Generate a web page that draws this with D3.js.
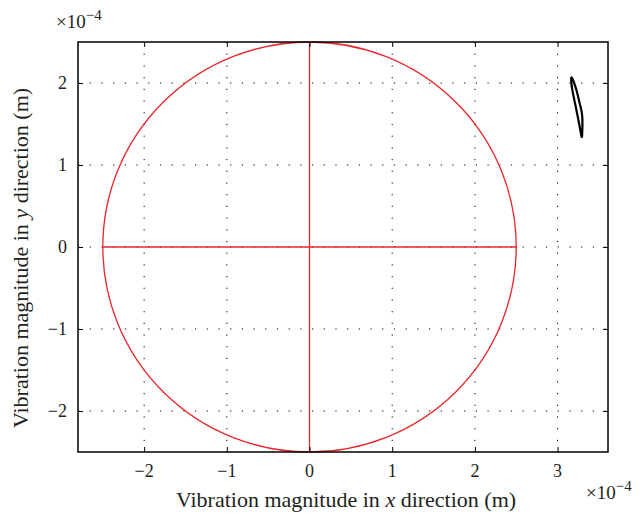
<!DOCTYPE html>
<html>
<head>
<meta charset="utf-8">
<script src="https://cdn.jsdelivr.net/npm/d3@7"></script>
<style>
body { margin: 0; background: #fff; }
svg text { font-family: "Liberation Serif", "Times New Roman", serif; fill: #231f20; }
</style>
</head>
<body>
<svg id="chart" width="640" height="516"></svg>
<script>
// values in units of 1e-4 m
var x_ticks = [-2, -1, 0, 1, 2, 3];
var y_ticks = [-2, -1, 0, 1, 2];
var circle_radius = 2.5;
var cross_x = [[-2.5, 0], [2.5, 0]];
var cross_y = [[0, -2.5], [0, 2.5]];
// orbit, (x, y) pairs
var orbit = [
    [3.165, 2.058], [3.177, 1.925], [3.217, 1.725], [3.265, 1.482],
    [3.289, 1.349], [3.298, 1.382], [3.298, 1.600], [3.265, 1.762],
    [3.225, 1.925], [3.185, 2.040]
];

var svg = d3.select('#chart');
var margin = {left: 78, right: 32, top: 42, bottom: 64};
var width = 640 - margin.left - margin.right,
    height = 516 - margin.top - margin.bottom;

var x = d3.scaleLinear().domain([-2.8, 3.61]).range([margin.left, margin.left + width]);
var y = d3.scaleLinear().domain([-2.5, 2.5]).range([margin.top + height, margin.top]);

var fmt = d => d < 0 ? '\u2212' + Math.abs(d) : String(d);

// dotted grid
svg.append('g').selectAll('line')
    .data(x_ticks).enter().append('line')
    .attr('x1', d => x(d)).attr('x2', d => x(d))
    .attr('y1', y(2.5)).attr('y2', y(-2.5))
    .attr('stroke', '#000').attr('stroke-width', 1)
    .attr('stroke-dasharray', '1.2,10.5');
svg.append('g').selectAll('line')
    .data(y_ticks).enter().append('line')
    .attr('y1', d => y(d)).attr('y2', d => y(d))
    .attr('x1', x.range()[0]).attr('x2', x.range()[1])
    .attr('stroke', '#000').attr('stroke-width', 1)
    .attr('stroke-dasharray', '1.2,10.5');

// red circle and cross
var red = '#e8262b';
svg.append('ellipse')
    .attr('cx', x(0)).attr('cy', y(0))
    .attr('rx', x(circle_radius) - x(0))
    .attr('ry', y(0) - y(circle_radius))
    .attr('fill', 'none').attr('stroke', red).attr('stroke-width', 1.3);

var line = d3.line().x(d => x(d[0])).y(d => y(d[1]));
[cross_x, cross_y].forEach(function(seg) {
    svg.append('path').attr('d', line(seg))
        .attr('fill', 'none').attr('stroke', red).attr('stroke-width', 1.3);
});

// orbit
svg.append('path')
    .attr('d', line.curve(d3.curveCardinalClosed)(orbit))
    .attr('fill', 'none').attr('stroke', '#000').attr('stroke-width', 2.2);

// tick marks, inside on all four sides (labels drawn separately)
function ticks(axis, scale, vals) {
    return axis(scale).tickValues(vals).tickSizeInner(-5).tickSizeOuter(0).tickFormat('');
}
svg.append('g').attr('transform', 'translate(0,' + y(-2.5) + ')')
    .call(ticks(d3.axisBottom, x, x_ticks));
svg.append('g').attr('transform', 'translate(0,' + y(2.5) + ')')
    .call(ticks(d3.axisTop, x, x_ticks));
svg.append('g').attr('transform', 'translate(' + x.range()[0] + ',0)')
    .call(ticks(d3.axisLeft, y, y_ticks));
svg.append('g').attr('transform', 'translate(' + x.range()[1] + ',0)')
    .call(ticks(d3.axisRight, y, y_ticks));
svg.selectAll('.domain').remove();
svg.selectAll('.tick line').attr('stroke', '#000');
svg.selectAll('.tick text').remove();

// tick labels
x_ticks.forEach(function(d) {
    svg.append('text')
        .attr('x', x(d)).attr('y', y(-2.5) + 25)
        .attr('text-anchor', 'middle')
        .attr('font-size', 18).style('font-size', '18px')
        .text(fmt(d));
});
y_ticks.forEach(function(d) {
    svg.append('text')
        .attr('x', x.range()[0] - 11).attr('y', y(d) + 6)
        .attr('text-anchor', 'end')
        .attr('font-size', 18).style('font-size', '18px')
        .text(fmt(d));
});

svg.append('rect')
    .attr('x', x.range()[0]).attr('y', y(2.5))
    .attr('width', width).attr('height', height)
    .attr('fill', 'none').attr('stroke', '#000').attr('stroke-width', 1.5);

// axis labels
svg.append('text')
    .attr('x', 346).attr('y', 507)
    .attr('text-anchor', 'middle').style('font-size', '22px')
    .html('Vibration magnitude in <tspan font-style="italic">x</tspan> direction (m)');

svg.append('text')
    .attr('transform', 'translate(28,258) rotate(-90)')
    .attr('text-anchor', 'middle').style('font-size', '22px')
    .html('Vibration magnitude in <tspan font-style="italic">y</tspan> direction (m)');

// exponent labels
function expLabel(px, py) {
    var t = svg.append('text').attr('x', px).attr('y', py).style('font-size', '19px');
    t.append('tspan').text('\u00d710');
    t.append('tspan').attr('dy', -8).style('font-size', '15px').text('\u22124');
}
expLabel(56, 28);
expLabel(586, 499);
</script>
</body>
</html>
